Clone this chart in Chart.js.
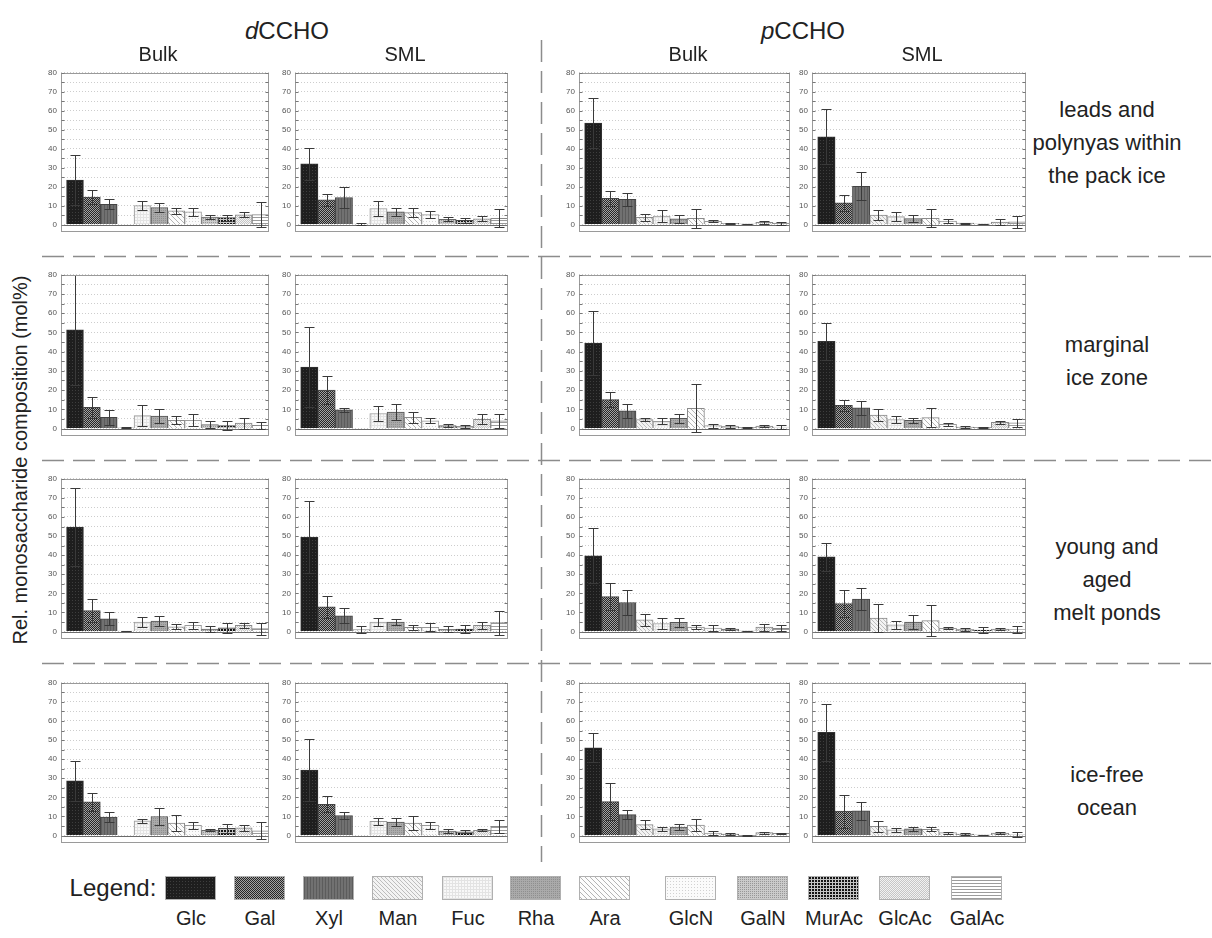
<!DOCTYPE html>
<html>
<head>
<meta charset="utf-8">
<script src="https://cdn.jsdelivr.net/npm/chart.js@4.4.0/dist/chart.umd.min.js"></script>
<style>
  html, body { margin: 0; padding: 0; background: #fff; }
  #page { position: relative; width: 1212px; height: 938px; overflow: hidden; background: #fff;
          font-family: "Liberation Sans", Arial, sans-serif; color: #222; }
  .t { position: absolute; transform: translate(-50%, -50%); white-space: nowrap; }
  canvas.panel { position: absolute; }
  .sw { position: absolute; width: 51px; height: 24px; border: 1px solid #b0b0b0; box-sizing: border-box; }
</style>
</head>
<body>
<div id="page">
  <svg id="dash" width="1212" height="938" style="position:absolute;left:0;top:0">
    <g stroke="#8c8c8c" stroke-width="1.5" stroke-dasharray="22 9" fill="none">
      <line x1="42" y1="256.5" x2="1212" y2="256.5"/>
      <line x1="42" y1="460.5" x2="1212" y2="460.5"/>
      <line x1="42" y1="663.5" x2="1212" y2="663.5"/>
      <line x1="541.5" y1="40" x2="541.5" y2="862"/>
    </g>
  </svg>
</div>
<script>
// ---------- data ----------
const categories = ['Glc','Gal','Xyl','Man','Fuc','Rha','Ara','GlcN','GalN','MurAc','GlcAc','GalAc'];
const yTickLabels = [0,10,20,30,40,50,60,70,80];
const groupTitles = ['dCCHO','pCCHO'];
const columnTitles = ['Bulk','SML','Bulk','SML'];
const rowTitles = [['leads and','polynyas within','the pack ice'],['marginal','ice zone'],['young and','aged','melt ponds'],['ice-free','ocean']];

// leads and polynyas within the pack ice
const leads_dBulk    = [23.5, 14.5, 10.7, null, 10.0, 9.0, 7.2, 6.8, 4.0, 3.7, 5.2, 5.3];
const leads_dBulk_sd = [13.0,  3.5,  2.7, null,  2.4, 2.2, 1.8, 2.0, 1.2, 1.6, 1.2, 6.4];
const leads_dSML     = [32.0, 13.0, 14.3, 0.3, 8.5, 6.8, 6.3, 5.3, 2.8, 2.2, 3.0, 3.3];
const leads_dSML_sd  = [ 8.5,  3.3,  5.4, 0.7, 3.8, 2.2, 2.4, 1.7, 1.0, 1.1, 1.3, 4.7];
const leads_pBulk    = [53.5, 13.8, 13.3, 3.8, 4.5, 3.0, 3.3, 1.7, 0.7, 0.3, 1.2, 0.8];
const leads_pBulk_sd = [13.2,  3.8,  3.5, 2.0, 3.2, 2.2, 5.0, 0.5, 0.3, 0.2, 0.8, 0.8];
const leads_pSML     = [46.3, 11.5, 20.2, 5.0, 4.2, 3.2, 3.3, 1.8, 0.8, 0.3, 1.3, 1.5];
const leads_pSML_sd  = [14.5,  4.3,  7.3, 2.5, 2.5, 2.0, 4.7, 0.9, 0.3, 0.1, 1.7, 3.3];
// marginal ice zone
const marg_dBulk     = [51.4, 11.0,  5.8, 0.4, 6.7, 6.5, 4.3, 4.3, 2.0, 1.5, 2.8, 1.7];
const marg_dBulk_sd  = [28.5,  5.5,  4.0, 0.2, 5.5, 3.8, 2.2, 3.2, 1.8, 2.3, 2.8, 1.7];
const marg_dSML      = [32.0, 20.0,  9.7, null, 7.8, 8.5, 5.8, 4.0, 1.5, 1.0, 4.8, 4.0];
const marg_dSML_sd   = [21.0,  7.5,  1.1, null, 3.7, 4.3, 3.0, 1.3, 0.7, 0.7, 2.5, 3.7];
const marg_pBulk     = [44.4, 15.0,  9.2, 4.7, 3.8, 5.3, 10.5, 1.5, 1.0, 0.5, 1.3, 0.8];
const marg_pBulk_sd  = [16.5,  4.0,  3.8, 1.0, 1.7, 2.4, 12.5, 1.0, 0.8, 0.2, 0.4, 0.9];
const marg_pSML      = [45.4, 12.1, 10.8, 7.0, 4.7, 4.2, 5.7, 2.2, 0.8, 0.5, 3.2, 3.0];
const marg_pSML_sd   = [ 9.6,  2.9,  3.7, 3.2, 1.8, 1.3, 4.8, 0.8, 0.3, 0.2, 0.8, 2.0];
// young and aged melt ponds
const melt_dBulk     = [54.7, 11.0,  6.7, 0.3, 5.0, 5.5, 2.5, 3.3, 1.3, 2.0, 3.3, 1.5];
const melt_dBulk_sd  = [20.6,  6.2,  3.3, 0.2, 2.7, 2.7, 1.3, 1.7, 1.4, 2.7, 1.2, 3.2];
const melt_dSML      = [49.5, 13.0,  8.3, 1.0, 5.0, 5.0, 2.2, 2.2, 1.2, 1.3, 3.3, 4.7];
const melt_dSML_sd   = [19.0,  5.7,  4.0, 1.7, 2.0, 1.8, 1.3, 2.1, 1.5, 1.9, 1.9, 6.3];
const melt_pBulk     = [39.7, 18.3, 15.2, 6.2, 4.2, 4.8, 2.3, 1.8, 1.3, 0.3, 2.3, 1.7];
const melt_pBulk_sd  = [14.3,  7.0,  6.5, 3.1, 2.8, 2.2, 1.2, 1.4, 0.5, 0.1, 1.9, 1.5];
const melt_pSML      = [39.2, 14.7, 17.0, 7.0, 3.5, 5.0, 5.7, 1.7, 1.0, 0.8, 1.3, 1.0];
const melt_pSML_sd   = [ 7.3,  7.1,  5.8, 7.3, 2.0, 3.7, 8.1, 0.5, 0.7, 1.5, 0.4, 2.0];
// ice-free ocean
const ocean_dBulk    = [28.6, 17.6,  9.7, null, 7.7, 10.0, 6.5, 5.3, 2.8, 3.8, 4.0, 2.5];
const ocean_dBulk_sd = [10.3,  4.7,  2.6, null, 1.0,  4.3, 4.2, 1.7, 0.4, 2.4, 1.7, 4.5];
const ocean_dSML     = [34.3, 16.3, 10.5, null, 7.5, 7.0, 6.5, 5.3, 2.3, 2.0, 2.8, 4.8];
const ocean_dSML_sd  = [16.3,  4.2,  2.0, null, 1.8, 2.0, 3.8, 1.7, 0.9, 0.7, 0.4, 3.5];
const ocean_pBulk    = [46.0, 17.8, 11.0, 5.7, 3.5, 4.5, 5.5, 1.3, 0.8, 0.1, 1.5, 1.2];
const ocean_pBulk_sd = [ 7.6,  9.6,  2.3, 2.3, 1.2, 1.8, 3.0, 1.0, 0.4, 0.1, 0.5, 0.3];
const ocean_pSML     = [54.0, 12.8, 13.0, 4.8, 3.0, 3.5, 3.3, 1.5, 0.8, 0.3, 1.3, 0.7];
const ocean_pSML_sd  = [15.0,  8.7,  4.6, 2.7, 1.0, 1.0, 1.0, 0.5, 0.3, 0.1, 0.7, 1.3];

// ---------- layout (positions only) ----------
const FONT = '"Liberation Sans", Arial, sans-serif';
const colLeft = [61, 295, 579, 812];
const colWidth = [208, 213, 211, 214];
const rowTop = [70, 272, 476, 680];
const rowHeight = [168, 170, 169, 169];
const panels = [
  [[leads_dBulk, leads_dBulk_sd], [leads_dSML, leads_dSML_sd], [leads_pBulk, leads_pBulk_sd], [leads_pSML, leads_pSML_sd]],
  [[marg_dBulk, marg_dBulk_sd], [marg_dSML, marg_dSML_sd], [marg_pBulk, marg_pBulk_sd], [marg_pSML, marg_pSML_sd]],
  [[melt_dBulk, melt_dBulk_sd], [melt_dSML, melt_dSML_sd], [melt_pBulk, melt_pBulk_sd], [melt_pSML, melt_pSML_sd]],
  [[ocean_dBulk, ocean_dBulk_sd], [ocean_dSML, ocean_dSML_sd], [ocean_pBulk, ocean_pBulk_sd], [ocean_pSML, ocean_pSML_sd]]
];

// ---------- patterns ----------
function tile(w, h, bg, draw) {
  const c = document.createElement('canvas'); c.width = w; c.height = h;
  const g = c.getContext('2d'); g.fillStyle = bg; g.fillRect(0, 0, w, h);
  if (draw) draw(g, w, h);
  return c;
}
function px(g, col, pts) { g.fillStyle = col; pts.forEach(p => g.fillRect(p[0], p[1], p[2] || 1, p[3] || 1)); }
function diag(g, w, h, col) { // "\" lines
  g.fillStyle = col; for (let i = 0; i < w; i++) g.fillRect(i, i % h, 1, 1);
}
const tiles = [
  tile(3, 3, '#1e1e1e', g => px(g, '#3e3e3e', [[1,1]])),                       // Glc
  tile(2, 2, '#a2a2a2', g => px(g, '#262626', [[0,0],[1,1]])),                  // Gal
  tile(3, 3, '#717171', g => px(g, '#5c5c5c', [[0,0,1,3]])),                     // Xyl
  tile(4, 4, '#f3f3f3', g => diag(g, 4, 4, '#bdbdbd')),                          // Man
  tile(3, 3, '#f8f8f8', g => px(g, '#e3e3e3', [[0,0,1,3],[0,0,3,1]])),           // Fuc
  tile(2, 2, '#aaaaaa', g => px(g, '#8f8f8f', [[0,0]])),                        // Rha
  tile(5, 5, '#fcfcfc', g => diag(g, 5, 5, '#b4b4b4')),                          // Ara
  tile(3, 3, '#fbfbfb', g => px(g, '#d2d2d2', [[1,1]])),                        // GlcN
  tile(2, 2, '#cbcbcb', g => px(g, '#979797', [[0,0]])),                        // GalN
  tile(3, 3, '#c4c4c4', g => px(g, '#141414', [[0,0,2,2]])),                     // MurAc
  tile(2, 2, '#f2f2f2', g => px(g, '#c6c6c6', [[0,0],[1,1]])),                  // GlcAc
  tile(3, 3, '#ffffff', g => px(g, '#9c9c9c', [[0,0,3,1]]))                      // GalAc
];
const pctx = document.createElement('canvas').getContext('2d');
const patterns = tiles.map(t => pctx.createPattern(t, 'repeat'));
const edgeColors = ['#333','#444','#444','#8a8a8a','#9a9a9a','#555','#8a8a8a','#9a9a9a','#666','#444','#888','#888'];

// ---------- plugin: frame, zero line, error bars ----------
const panelDeco = {
  id: 'panelDeco',
  beforeDatasetsDraw(chart) {
    const { ctx, chartArea: a, scales: { y } } = chart;
    const y0 = Math.round(y.getPixelForValue(0)) + 0.5;
    ctx.save(); ctx.strokeStyle = '#6a6a6a'; ctx.lineWidth = 1;
    ctx.beginPath(); ctx.moveTo(a.left, y0); ctx.lineTo(a.right, y0); ctx.stroke(); ctx.restore();
  },
  afterDatasetsDraw(chart) {
    const { ctx, chartArea: a, scales: { y } } = chart;
    const meta = chart.getDatasetMeta(0);
    const data = chart.data.datasets[0].data;
    ctx.save();
    ctx.strokeStyle = '#3a3a3a'; ctx.lineWidth = 1;
    meta.data.forEach((el, i) => {
      const d = data[i]; if (d.e == null) return;
      const x = Math.round(el.x) + 0.5;
      const yt = Math.round(y.getPixelForValue(d.y + d.e)) + 0.5;
      const yb = Math.round(y.getPixelForValue(d.y - d.e)) + 0.5;
      ctx.beginPath();
      ctx.moveTo(x, yt); ctx.lineTo(x, yb);
      ctx.moveTo(x - 5, yt); ctx.lineTo(x + 5, yt);
      ctx.moveTo(x - 5, yb); ctx.lineTo(x + 5, yb);
      ctx.stroke();
    });
    // frame
    ctx.strokeStyle = '#9a9a9a';
    const l = Math.round(a.left) + 0.5, r = Math.round(a.right) - 0.5, t = Math.round(a.top) + 0.5, b = Math.round(a.bottom) - 0.5;
    ctx.strokeRect(l, t, r - l, b - t);
    // minor tick marks
    ctx.strokeStyle = '#777';
    y.ticks.forEach(tk => {
      if (tk.value < 0) return;
      const yy = Math.round(y.getPixelForValue(tk.value)) + 0.5;
      ctx.beginPath(); ctx.moveTo(l, yy); ctx.lineTo(l + 3, yy); ctx.moveTo(r, yy); ctx.lineTo(r - 3, yy); ctx.stroke();
    });
    ctx.restore();
  }
};

const page = document.getElementById('page');
function addText(txt, x, y, size, extra) {
  const d = document.createElement('div'); d.className = 't';
  d.style.left = x + 'px'; d.style.top = y + 'px'; d.style.fontSize = size + 'px';
  if (extra) Object.assign(d.style, extra);
  d.innerHTML = txt; page.appendChild(d); return d;
}

// ---------- panels ----------
panels.forEach((row, r) => row.forEach((pair, c) => {
  const [vals, sds] = pair;
  const L = colLeft[c], T = rowTop[r], W = colWidth[c], H = rowHeight[r];
  const padL = 26, padT = 6, padR = 3, padB = 3;
  const cv = document.createElement('canvas'); cv.className = 'panel';
  cv.width = W + padL + padR; cv.height = H + padT + padB;
  cv.style.left = (L - padL) + 'px'; cv.style.top = (T - padT) + 'px';
  page.appendChild(cv);
  const pts = [];
  categories.forEach((cat, i) => { if (vals[i] != null) pts.push({ x: i, y: vals[i], e: sds[i], k: i }); });
  new Chart(cv, {
    type: 'bar',
    data: { datasets: [{
      data: pts,
      backgroundColor: ctx => patterns[ctx.raw ? ctx.raw.k : 0],
      borderColor: ctx => edgeColors[ctx.raw ? ctx.raw.k : 0],
      borderWidth: 1, borderSkipped: 'start',
      barPercentage: 1, categoryPercentage: 1
    }] },
    options: {
      responsive: false, animation: false, events: [],
      layout: { padding: { top: padT, bottom: padB, left: 0, right: padR } },
      plugins: { legend: { display: false }, tooltip: { enabled: false } },
      scales: {
        x: { type: 'linear', min: -0.83, max: 11.5, offset: false, display: false },
        y: {
          min: -4, max: 80,
          afterFit(s) { s.width = padL; },
          ticks: { stepSize: 5, includeBounds: false, autoSkip: false, padding: 4, color: '#555',
                   font: { size: 8, family: FONT },
                   callback: v => (yTickLabels.includes(v) ? String(v) : '') },
          grid: { color: '#cdcdcd', lineWidth: 1, drawTicks: false },
          border: { display: false, dash: [1, 2] }
        }
      }
    },
    plugins: [panelDeco]
  });
}));

// ---------- titles ----------
addText('<i>d</i>CCHO', 287, 31, 24);
addText('<i>p</i>CCHO', 803, 31, 24);
const colTitleX = [158, 405, 688, 922];
columnTitles.forEach((t, i) => addText(t, colTitleX[i], 54, 20));
const rowLineY = [[110, 143, 176], [345, 378], [547, 580, 613], [775, 808]];
rowTitles.forEach((lines, r) => lines.forEach((ln, j) => addText(ln, 1107, rowLineY[r][j], 22)));
addText('Rel. monosaccharide composition (mol%)', 20, 460, 20, { transform: 'translate(-50%,-50%) rotate(-90deg)' });

// ---------- legend ----------
addText('Legend:', 113, 888, 24);
const legendX = [165, 234, 303, 372, 442, 510, 579, 665, 737, 808, 879, 951];
categories.forEach((cat, i) => {
  const s = document.createElement('div'); s.className = 'sw';
  s.style.left = legendX[i] + 'px'; s.style.top = '876px';
  s.style.backgroundImage = 'url(' + tiles[i].toDataURL() + ')';
  page.appendChild(s);
  addText(cat, legendX[i] + 26, 918, 20);
});
</script>
</body>
</html>
